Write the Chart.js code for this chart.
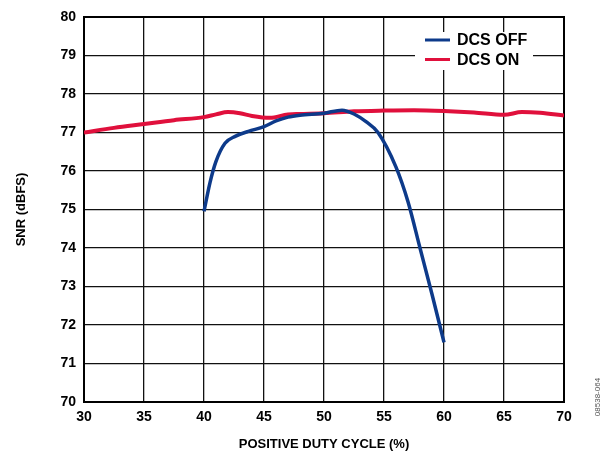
<!DOCTYPE html>
<html>
<head>
<meta charset="utf-8">
<script src="https://cdn.jsdelivr.net/npm/chart.js@4/dist/chart.umd.min.js"></script>
<style>
  html, body { margin: 0; padding: 0; background: #fff; }
  #wrap { width: 605px; height: 452px; }
</style>
</head>
<body>
<div id="wrap"><canvas id="chart"></canvas></div>
<script>
const dutyOff = [40, 40.5, 41, 41.75, 42.6, 43.7, 45, 46, 47, 48, 50, 51.5, 52.5, 53.5, 54.5, 56, 57, 58, 59, 60];
const snrOff = [74.95, 75.7, 76.25, 76.72, 76.9, 77.03, 77.15, 77.3, 77.4, 77.45, 77.5, 77.58, 77.48, 77.28, 77.0, 76.1, 75.2, 74.0, 72.8, 71.55];

const dutyOn = [30, 32.5, 35, 37.5, 40, 41, 42, 43, 44, 45.5, 47, 48, 50, 52.5, 55, 57.5, 60, 62.5, 65, 66.5, 68, 70];
const snrOn = [77.0, 77.12, 77.22, 77.32, 77.4, 77.47, 77.53, 77.5, 77.43, 77.38, 77.47, 77.48, 77.5, 77.55, 77.57, 77.58, 77.56, 77.52, 77.46, 77.53, 77.51, 77.44];

const xTicks = [30, 35, 40, 45, 50, 55, 60, 65, 70];
const yTicks = [70, 71, 72, 73, 74, 75, 76, 77, 78, 79, 80];

const FONT = "Arial, 'Liberation Sans', Helvetica, sans-serif";
const BLUE = '#0d3a8a';
const RED = '#e0103c';

// frame, legend box and figure number
const extras = {
  id: 'extras',
  beforeDatasetsDraw(chart) {
    const { ctx, chartArea: a } = chart;
    ctx.save();
    ctx.strokeStyle = '#000';
    ctx.lineWidth = 2;
    ctx.strokeRect(a.left, a.top, a.right - a.left, a.bottom - a.top);
    ctx.restore();
  },
  afterDraw(chart) {
    const { ctx } = chart;
    ctx.save();
    ctx.fillStyle = '#fff';
    ctx.fillRect(415, 32, 118, 38);
    const rows = [
      { ds: chart.data.datasets[0], y: 40 },
      { ds: chart.data.datasets[1], y: 59.5 },
    ];
    ctx.font = 'bold 16px ' + FONT;
    ctx.textBaseline = 'middle';
    ctx.textAlign = 'left';
    rows.forEach((r) => {
      ctx.strokeStyle = r.ds.borderColor;
      ctx.lineWidth = 3;
      ctx.beginPath();
      ctx.moveTo(425, r.y);
      ctx.lineTo(450, r.y);
      ctx.stroke();
      ctx.fillStyle = '#000';
      ctx.fillText(r.ds.label, 457, r.y + 1);
    });

    ctx.translate(598, 397);
    ctx.rotate(-Math.PI / 2);
    ctx.font = '8px ' + FONT;
    ctx.fillStyle = '#555';
    ctx.textAlign = 'center';
    ctx.fillText('08538-064', 0, 0);
    ctx.restore();
  },
};

new Chart(document.getElementById('chart'), {
  type: 'line',
  data: {
    datasets: [
      {
        label: 'DCS OFF',
        data: dutyOff.map((x, i) => ({ x: x, y: snrOff[i] })),
        borderColor: BLUE,
        borderWidth: 3.5,
        cubicInterpolationMode: 'monotone',
        pointRadius: 0,
      },
      {
        label: 'DCS ON',
        data: dutyOn.map((x, i) => ({ x: x, y: snrOn[i] })),
        borderColor: RED,
        borderWidth: 4,
        cubicInterpolationMode: 'monotone',
        pointRadius: 0,
      },
    ],
  },
  options: {
    responsive: true,
    maintainAspectRatio: false,
    animation: false,
    layout: {
      padding: { top: 17, right: 41, bottom: 0, left: 0 },
    },
    plugins: {
      legend: { display: false },
      tooltip: { enabled: false },
    },
    scales: {
      x: {
        type: 'linear',
        min: 30,
        max: 70,
        afterBuildTicks: (scale) => {
          scale.ticks = xTicks.map((v) => ({ value: v }));
        },
        afterFit: (scale) => {
          scale.height = 50;
        },
        border: { display: false },
        grid: { color: '#111', lineWidth: 1.3, drawTicks: false },
        ticks: {
          color: '#000',
          padding: 7,
          font: { family: FONT, size: 14, weight: 'bold' },
        },
        title: {
          display: true,
          text: 'POSITIVE DUTY CYCLE (%)',
          color: '#000',
          padding: { top: 0, bottom: 0 },
          font: { family: FONT, size: 13, weight: 'bold' },
        },
      },
      y: {
        min: 70,
        max: 80,
        afterBuildTicks: (scale) => {
          scale.ticks = yTicks.map((v) => ({ value: v }));
        },
        afterFit: (scale) => {
          scale.width = 84;
        },
        border: { display: false },
        grid: { color: '#111', lineWidth: 1.3, drawTicks: false },
        ticks: {
          color: '#000',
          padding: 8,
          font: { family: FONT, size: 14, weight: 'bold' },
        },
        title: {
          display: true,
          text: 'SNR (dBFS)',
          color: '#000',
          padding: { top: 14, bottom: 0 },
          font: { family: FONT, size: 13, weight: 'bold' },
        },
      },
    },
  },
  plugins: [extras],
});
</script>
</body>
</html>
